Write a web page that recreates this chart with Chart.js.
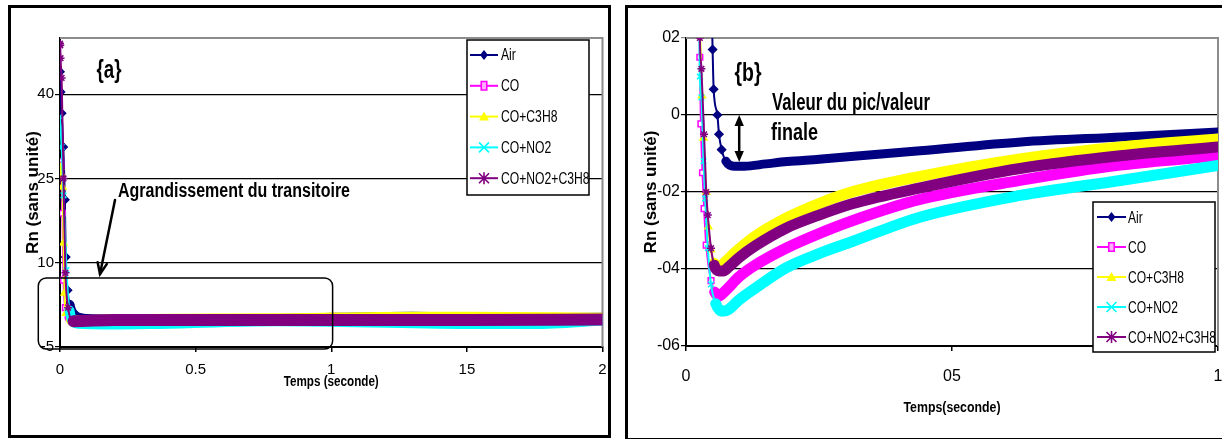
<!DOCTYPE html>
<html><head><meta charset="utf-8">
<script src="https://cdn.jsdelivr.net/npm/chart.js@4/dist/chart.umd.min.js"></script>
<style>
html,body{margin:0;padding:0;background:#fff;width:1222px;height:439px;overflow:hidden;position:relative;}
.frame{position:absolute;border:3px solid #000;background:#fff;}
#fa{left:8px;top:5px;width:597px;height:427px;}
#fb{left:625px;top:5px;width:600px;height:430px;}
canvas{display:block;}
</style></head><body>
<div class="frame" id="fa"><canvas id="ca" width="597" height="427"></canvas></div>
<div class="frame" id="fb"><canvas id="cb" width="600" height="430"></canvas></div>
<script>
// ---------- DATA ----------
const seriesNames = ['Air', 'CO', 'CO+C3H8', 'CO+NO2', 'CO+NO2+C3H8'];

// (a) full response, time 0–2 s
const aAirT  = [0, 0.002, 0.006, 0.012, 0.018, 0.021, 0.028, 0.035, 0.055, 0.1, 0.4, 0.8, 1.3, 1.6, 2.0];
const aAirV  = [44, 40.4, 36.6, 30.6, 21.2, 11, 5.1, 2.5, 0.6, 0.0, -0.1, 0.0, 0.4, 0.1, 0.2];
const aCOT   = [0, 0.003, 0.009, 0.013, 0.02, 0.035, 0.06, 0.3, 0.8, 1.3, 2.0];
const aCOV   = [28, 27.4, 18.8, 6.9, 2.0, 0.2, -0.5, -0.4, -0.3, -0.2, -0.1];
const aC3T   = [0, 0.002, 0.009, 0.013, 0.017, 0.022, 0.04, 0.3, 0.8, 1.3, 1.5, 2.0];
const aC3V   = [27, 26, 23.5, 13.5, 4.6, 1.0, -0.2, 0.0, 0.1, 0.4, 0.4, 0.2];
const aNO2T  = [0, 0.002, 0.006, 0.013, 0.024, 0.035, 0.06, 0.2, 0.35, 0.8, 1.5, 1.75, 2.0];
const aNO2V  = [36, 34, 30.6, 22, 8.7, 1.5, -0.8, -1.0, -0.9, -0.4, -0.9, -0.9, -0.3];
const aAllT  = [0, 0.001, 0.002, 0.006, 0.013, 0.02, 0.03, 0.05, 0.2, 0.6, 1.0, 1.5, 2.0];
const aAllV  = [49, 48.7, 46.4, 42.9, 25, 8.2, 2.0, -0.4, -0.2, -0.2, -0.2, -0.2, -0.1];

const aXTicks = [0, 0.5, 1, 1.5, 2];
const aXLabels = ['0', '0.5', '1', '15', '2'];
const aYTicks = [-5, 10, 25, 40];
const aYLabels = ['-5', '10', '25', '40'];

// (b) zoom on the transient, time 0–1 s
const bAirT = [0.043, 0.048, 0.05, 0.052, 0.059, 0.062, 0.067, 0.075, 0.09, 0.11, 0.15, 0.19, 0.25, 0.31, 0.44, 0.63, 0.82, 1.0];
const bAirV = [0.6, 0.3, 0.17, 0.067, 0.0, -0.05, -0.09, -0.12, -0.133, -0.133, -0.127, -0.121, -0.115, -0.108, -0.093, -0.07, -0.057, -0.044];
const bCOT  = [0.02, 0.026, 0.028, 0.031, 0.034, 0.038, 0.047, 0.054, 0.062, 0.075, 0.1, 0.13, 0.188, 0.25, 0.314, 0.438, 0.628, 0.816, 1.0];
const bCOV  = [0.8, 0.15, -0.023, -0.15, -0.243, -0.338, -0.43, -0.46, -0.47, -0.455, -0.42, -0.39, -0.346, -0.308, -0.274, -0.22, -0.17, -0.13, -0.106];
const bC3T  = [0.02, 0.026, 0.03, 0.033, 0.038, 0.042, 0.047, 0.053, 0.062, 0.075, 0.094, 0.13, 0.188, 0.25, 0.314, 0.438, 0.628, 0.816, 1.0];
const bC3V  = [0.8, 0.25, 0.05, -0.06, -0.2, -0.29, -0.35, -0.385, -0.395, -0.38, -0.355, -0.315, -0.268, -0.23, -0.199, -0.16, -0.114, -0.083, -0.062];
const bNO2T = [0.02, 0.026, 0.029, 0.033, 0.036, 0.041, 0.047, 0.056, 0.068, 0.08, 0.1, 0.13, 0.188, 0.25, 0.314, 0.438, 0.628, 0.816, 1.0];
const bNO2V = [0.85, 0.1, 0.046, -0.12, -0.217, -0.346, -0.44, -0.49, -0.51, -0.505, -0.48, -0.45, -0.397, -0.36, -0.328, -0.266, -0.209, -0.17, -0.131];
const bAllT = [0.02, 0.026, 0.029, 0.034, 0.038, 0.041, 0.047, 0.053, 0.062, 0.07, 0.08, 0.1, 0.13, 0.188, 0.25, 0.314, 0.438, 0.628, 0.816, 1.0];
const bAllV = [0.9, 0.2, 0.12, -0.05, -0.2, -0.26, -0.346, -0.39, -0.405, -0.405, -0.395, -0.37, -0.34, -0.294, -0.26, -0.23, -0.19, -0.139, -0.106, -0.083];

const bXTicks = [0, 0.5, 1];
const bXLabels = ['0', '05', '1'];
const bYTicks = [-0.6, -0.4, -0.2, 0, 0.2];
const bYLabels = ['-06', '-04', '-02', '0', '02'];

// ---------- STYLE ----------
const seriesColors = ['#000080', '#FF00FF', '#FFFF00', '#00FFFF', '#800080'];
const seriesMarkers = ['rectRot', 'rect', 'triangle', 'crossRot', 'star'];
const FONT = "'Liberation Sans', Arial, sans-serif";
Chart.defaults.font.family = FONT;
Chart.defaults.color = '#000';

function pts(T, V) { return T.map((t, i) => ({ x: t, y: V[i] })); }

function buildDatasets(Ts, Vs, thinUntil, thickW, markR) {
  return Ts.map((T, i) => ({
    label: seriesNames[i],
    data: pts(T, Vs[i]),
    borderColor: seriesColors[i],
    backgroundColor: seriesColors[i],
    pointStyle: seriesMarkers[i],
    pointBackgroundColor: i === 1 ? '#ffffff' : seriesColors[i],
    pointBorderColor: seriesColors[i],
    pointBorderWidth: 1.5,
    pointRadius: ctx => (ctx.raw && ctx.raw.x <= thinUntil[i] ? markR : 0),
    borderWidth: 2,
    segment: { borderWidth: ctx => (ctx.p0.parsed.x >= thinUntil[i] ? thickW[i] : 2) },
    cubicInterpolationMode: 'monotone',
    borderJoinStyle: 'round',
    borderCapStyle: 'round',
    clip: 0,
    order: 5 - i
  }));
}

function drawMarker(ctx, style, x, y, r, color) {
  ctx.save();
  ctx.strokeStyle = color; ctx.fillStyle = color; ctx.lineWidth = 1.6;
  ctx.beginPath();
  if (style === 'rectRot') {
    ctx.moveTo(x, y - r); ctx.lineTo(x + r * 0.8, y); ctx.lineTo(x, y + r); ctx.lineTo(x - r * 0.8, y); ctx.closePath(); ctx.fill();
  } else if (style === 'rect') {
    ctx.fillStyle = '#ffb0ff';
    ctx.rect(x - r * 0.55, y - r * 0.85, r * 1.1, r * 1.7); ctx.fill(); ctx.stroke();
  } else if (style === 'triangle') {
    ctx.moveTo(x, y - r); ctx.lineTo(x + r, y + r * 0.8); ctx.lineTo(x - r, y + r * 0.8); ctx.closePath(); ctx.fill();
  } else if (style === 'crossRot') {
    ctx.moveTo(x - r, y - r); ctx.lineTo(x + r, y + r); ctx.moveTo(x + r, y - r); ctx.lineTo(x - r, y + r); ctx.stroke();
  } else if (style === 'star') {
    ctx.moveTo(x - r, y - r); ctx.lineTo(x + r, y + r); ctx.moveTo(x + r, y - r); ctx.lineTo(x - r, y + r);
    ctx.moveTo(x, y - r * 1.2); ctx.lineTo(x, y + r * 1.2); ctx.stroke();
  }
  ctx.restore();
}

const boxLegend = {
  id: 'boxLegend',
  afterDraw(chart, args, o) {
    const ctx = chart.ctx;
    ctx.save();
    ctx.fillStyle = '#fff'; ctx.strokeStyle = '#000'; ctx.lineWidth = 1.5;
    ctx.fillRect(o.x, o.y, o.w, o.h); ctx.strokeRect(o.x, o.y, o.w, o.h);
    chart.data.datasets.forEach((ds, i) => {
      const yy = o.y + o.first + i * o.gap;
      ctx.strokeStyle = ds.borderColor; ctx.lineWidth = 2;
      ctx.beginPath(); ctx.moveTo(o.lx0, yy); ctx.lineTo(o.lx1, yy); ctx.stroke();
      drawMarker(ctx, ds.pointStyle, (o.lx0 + o.lx1) / 2, yy, o.mr, ds.borderColor);
      ctx.fillStyle = '#000'; ctx.font = o.font; ctx.textAlign = 'left'; ctx.textBaseline = 'middle';
      const w = ctx.measureText(ds.label).width;
      ctx.fillText(ds.label, o.tx, yy + 1, w * o.squeeze);
    });
    ctx.restore();
  }
};

// condensed x-axis title (the original uses a very tight, squeezed face)
const xTitle = {
  id: 'xTitle',
  afterDraw(chart, args, o) {
    const { ctx, chartArea: a } = chart;
    ctx.save();
    ctx.fillStyle = '#000';
    ctx.font = 'bold ' + o.size + 'px ' + FONT;
    ctx.textAlign = 'center'; ctx.textBaseline = 'middle';
    ctx.fillText(o.text, (a.left + a.right) / 2, o.y, o.width);
    ctx.restore();
  }
};

const plotFrame = {
  id: 'plotFrame',
  beforeDatasetsDraw(chart) {
    const { ctx, chartArea: a } = chart;
    ctx.save();
    ctx.strokeStyle = '#8c8c8c'; ctx.lineWidth = 2;
    ctx.beginPath(); ctx.moveTo(a.left, a.top); ctx.lineTo(a.right, a.top); ctx.lineTo(a.right, a.bottom); ctx.stroke();
    ctx.restore();
  }
};

function arrow(ctx, x0, y0, x1, y1, len, filled) {
  const ang = Math.atan2(y1 - y0, x1 - x0);
  const a1 = ang + Math.PI - 0.4, a2 = ang + Math.PI + 0.4;
  ctx.beginPath();
  ctx.moveTo(x1 + len * Math.cos(a1), y1 + len * Math.sin(a1));
  ctx.lineTo(x1, y1);
  ctx.lineTo(x1 + len * Math.cos(a2), y1 + len * Math.sin(a2));
  if (filled) { ctx.closePath(); ctx.fill(); } else { ctx.stroke(); }
}

const annotA = {
  id: 'annotA',
  afterDraw(chart) {
    const { ctx, scales: { x, y } } = chart;
    ctx.save();
    ctx.fillStyle = '#000'; ctx.strokeStyle = '#000';
    ctx.font = 'bold 25px ' + FONT;
    ctx.textAlign = 'center'; ctx.textBaseline = 'middle';
    ctx.fillText('{a}', 98, 63, 25);
    ctx.font = 'bold 20px ' + FONT;
    ctx.textAlign = 'left'; ctx.textBaseline = 'alphabetic';
    ctx.fillText('Agrandissement du transitoire', 107, 189, 232);
    // arrow
    ctx.lineWidth = 2.5; ctx.lineCap = 'round';
    ctx.beginPath(); ctx.moveTo(104, 192); ctx.lineTo(89, 266); ctx.stroke();
    arrow(ctx, 104, 192, 89, 266, 12, false);
    // rounded box around the zoomed region
    const x0 = x.getPixelForValue(-0.08), x1 = x.getPixelForValue(1.005);
    const y0 = y.getPixelForValue(7.3), y1 = y.getPixelForValue(-5.35);
    ctx.lineWidth = 1.5;
    ctx.beginPath(); ctx.roundRect(x0, y0, x1 - x0, y1 - y0, 8); ctx.stroke();
    ctx.restore();
  }
};

const annotB = {
  id: 'annotB',
  afterDraw(chart) {
    const { ctx, scales: { x, y } } = chart;
    ctx.save();
    ctx.fillStyle = '#000'; ctx.strokeStyle = '#000';
    ctx.font = 'bold 25px ' + FONT;
    ctx.textAlign = 'center'; ctx.textBaseline = 'middle';
    ctx.fillText('{b}', 120, 66, 27);
    ctx.font = 'bold 23px ' + FONT;
    ctx.textAlign = 'left'; ctx.textBaseline = 'alphabetic';
    ctx.fillText('Valeur du pic/valeur', 144, 102, 158);
    ctx.fillText('finale', 143, 132, 47);
    // double arrow: peak value vs final value
    const ax = x.getPixelForValue(0.1);
    const ya = y.getPixelForValue(0), yb = y.getPixelForValue(-0.122);
    ctx.lineWidth = 2.5;
    ctx.beginPath(); ctx.moveTo(ax, ya + 8); ctx.lineTo(ax, yb - 8); ctx.stroke();
    arrow(ctx, ax, yb - 5, ax, ya, 12, true);
    arrow(ctx, ax, ya + 5, ax, yb, 12, true);
    ctx.restore();
  }
};

function makeChart(id, cfg) {
  return new Chart(document.getElementById(id), {
    type: 'line',
    data: { datasets: cfg.datasets },
    plugins: [plotFrame, cfg.annot, boxLegend, xTitle],
    options: {
      responsive: false,
      animation: false,
      events: [],
      layout: { padding: { left: 0, top: cfg.area.top, right: cfg.W - cfg.area.right, bottom: 0 } },
      plugins: {
        legend: { display: false },
        tooltip: { enabled: false },
        boxLegend: cfg.legend,
        xTitle: cfg.xTitle
      },
      scales: {
        x: {
          type: 'linear', min: cfg.xMin, max: cfg.xMax,
          afterBuildTicks: s => { s.ticks = cfg.xTicks.map(v => ({ value: v })); },
          afterFit: s => { s.height = cfg.H - cfg.area.bottom; s.paddingLeft = 0; s.paddingRight = 0; },
          ticks: { callback: (v, i) => cfg.xLabels[i], font: { size: cfg.tickSize }, padding: cfg.xTickPad, maxRotation: 0, autoSkip: false, color: '#000' },
          grid: { drawOnChartArea: false, drawTicks: true, tickLength: 5, color: '#000', lineWidth: 1.5 },
          border: { display: true, color: '#000', width: 2 },
          title: { display: false }
        },
        y: {
          type: 'linear', min: cfg.yMin, max: cfg.yMax,
          afterBuildTicks: s => { s.ticks = cfg.yTicks.map(v => ({ value: v })); },
          afterFit: s => { s.width = cfg.area.left; s.paddingTop = 0; s.paddingBottom = 0; },
          ticks: { callback: (v, i) => cfg.yLabels[i], font: { size: cfg.tickSize }, padding: 1, autoSkip: false, color: '#000' },
          grid: { drawOnChartArea: true, drawTicks: true, tickLength: 5, lineWidth: 1.2,
                  color: c => (c.tick && c.tick.value === cfg.yMax ? '#8c8c8c' : '#000') },
          border: { display: true, color: '#000', width: 2 },
          title: { display: true, text: 'Rn (sans unité)', font: { size: 17, weight: 'bold' }, color: '#000', padding: { top: cfg.yTitlePad, bottom: 0 } }
        }
      }
    }
  });
}

makeChart('ca', {
  W: 597, H: 427,
  area: { left: 49, right: 592, top: 30, bottom: 339 },
  datasets: buildDatasets([aAirT, aCOT, aC3T, aNO2T, aAllT], [aAirV, aCOV, aC3V, aNO2V, aAllV],
                          [0.035, 0.035, 0.035, 0.035, 0.035], [10, 10, 10, 10, 12], 4),
  annot: annotA,
  xMin: 0, xMax: 2, xTicks: aXTicks, xLabels: aXLabels,
  yMin: -5, yMax: 50, yTicks: aYTicks, yLabels: aYLabels,
  tickSize: 15, xTickPad: 9, yTitlePad: 11.8,
  xTitle: { text: 'Temps (seconde)', size: 14, y: 374, width: 95 },
  legend: { x: 456, y: 32, w: 122, h: 155, first: 15, gap: 30.8, lx0: 459, lx1: 487, tx: 490, mr: 5, font: '16px ' + FONT, squeeze: 0.76 }
});

makeChart('cb', {
  W: 600, H: 430,
  area: { left: 58, right: 590, top: 30, bottom: 338 },
  datasets: buildDatasets([bAirT, bCOT, bC3T, bNO2T, bAllT], [bAirV, bCOV, bC3V, bNO2V, bAllV],
                          [0.07, 0.053, 0.053, 0.053, 0.053], [9, 11, 11, 11, 11], 4),
  annot: annotB,
  xMin: 0, xMax: 1, xTicks: bXTicks, xLabels: bXLabels,
  yMin: -0.6, yMax: 0.2, yTicks: bYTicks, yLabels: bYLabels,
  tickSize: 16, xTickPad: 16, yTitlePad: 12.8,
  xTitle: { text: 'Temps(seconde)', size: 15, y: 400, width: 97 },
  legend: { x: 465, y: 194, w: 122, h: 150, first: 15, gap: 30, lx0: 469, lx1: 498, tx: 500, mr: 5, font: '17px ' + FONT, squeeze: 0.71 }
});
</script>
</body></html>
